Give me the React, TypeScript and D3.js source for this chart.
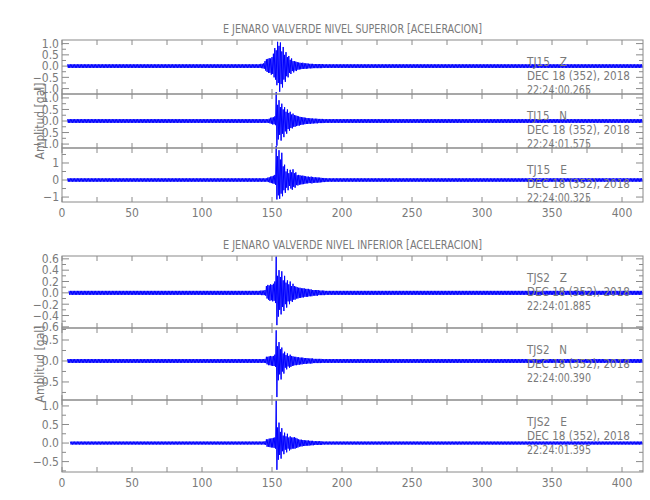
import * as d3 from 'd3';

// seconds 140..189 hold the min/max envelope (one bin per second)
const WIN_START = 140;

const SUP_Z_MAX = [0.08,0.08,0.1,0.1,0.12,0.22,0.3,0.32,0.35,0.34, 0.4,0.55,0.8,0.7,1.08,0.9,1.05,0.65,0.85,0.5,0.62,0.4,0.45,0.28,0.34,0.22, 0.22,0.2,0.18,0.16,0.15,0.14,0.15,0.13,0.12,0.12,0.11,0.1,0.1,0.1, 0.09,0.09,0.09,0.09,0.09,0.09,0.09,0.08,0.08,0.08];
const SUP_Z_MIN = [-0.08,-0.08,-0.09,-0.1,-0.12,-0.2,-0.26,-0.3,-0.3,-0.38, -0.35,-0.5,-0.6,-0.85,-0.75,-1.14,-0.8,-0.95,-0.6,-0.7,-0.45,-0.5,-0.3,-0.35,-0.22,-0.28, -0.2,-0.22,-0.16,-0.15,-0.14,-0.13,-0.12,-0.12,-0.12,-0.11,-0.1,-0.1,-0.1,-0.09, -0.09,-0.09,-0.09,-0.09,-0.09,-0.09,-0.08,-0.08,-0.08,-0.08];
const SUP_N_MAX = [0.08,0.08,0.08,0.08,0.08,0.08,0.08,0.08,0.1,0.14,0.15,0.16,0.2, 1.25,0.7,0.9,0.6,0.75,0.5,0.6,0.4,0.5,0.35,0.4,0.28,0.32, 0.26,0.24,0.22,0.2,0.18,0.17,0.16,0.15,0.14,0.13,0.12,0.12,0.11,0.11, 0.1,0.1,0.1,0.09,0.09,0.09,0.09,0.08,0.08,0.08];
const SUP_N_MIN = [-0.08,-0.08,-0.08,-0.08,-0.08,-0.08,-0.08,-0.08,-0.1,-0.12,-0.15,-0.14,-0.18, -1.07,-0.8,-0.6,-0.85,-0.55,-0.7,-0.45,-0.55,-0.35,-0.42,-0.3,-0.32,-0.25, -0.25,-0.22,-0.2,-0.2,-0.17,-0.16,-0.15,-0.14,-0.13,-0.13,-0.12,-0.12,-0.11,-0.11, -0.1,-0.1,-0.1,-0.09,-0.09,-0.09,-0.09,-0.08,-0.08,-0.08];
const SUP_E_MAX = [0.1,0.1,0.1,0.1,0.1,0.1,0.1,0.14,0.16,0.2,0.22,0.25,0.3, 2.0,1.4,1.75,1.2,1.6,0.8,0.9,0.5,0.65,0.4,0.6,0.45,0.63,0.4,0.45,0.28, 0.3,0.28,0.25,0.26,0.24,0.22,0.2,0.2,0.18,0.2,0.18, 0.16,0.16,0.15,0.15,0.14,0.13,0.12,0.12,0.11,0.1];
const SUP_E_MIN = [-0.1,-0.1,-0.1,-0.1,-0.1,-0.1,-0.1,-0.12,-0.15,-0.18,-0.2,-0.22,-0.28, -1.14,-0.9,-1.1,-0.8,-0.95,-0.6,-0.75,-0.45,-0.6,-0.35,-0.5,-0.57,-0.4,-0.45,-0.3,-0.32, -0.28,-0.26,-0.25,-0.24,-0.22,-0.2,-0.2,-0.18,-0.18,-0.2,-0.17, -0.16,-0.16,-0.15,-0.15,-0.14,-0.13,-0.12,-0.12,-0.11,-0.1];

const INF_Z_MAX = [0.035,0.035,0.04,0.04,0.04,0.05,0.12,0.14,0.13,0.15,0.14,0.16,0.2, 0.64,0.3,0.4,0.28,0.38,0.22,0.3,0.18,0.22,0.15,0.2,0.12,0.16, 0.12,0.11,0.1,0.09,0.09,0.08,0.08,0.08,0.07,0.07,0.07,0.06,0.06,0.05, 0.05,0.05,0.05,0.05,0.04,0.04,0.04,0.04,0.035,0.035];
const INF_Z_MIN = [-0.035,-0.035,-0.04,-0.04,-0.04,-0.05,-0.1,-0.12,-0.14,-0.13,-0.15,-0.14,-0.18, -0.57,-0.42,-0.3,-0.38,-0.25,-0.32,-0.2,-0.26,-0.15,-0.2,-0.14,-0.16,-0.12, -0.12,-0.1,-0.1,-0.09,-0.09,-0.08,-0.08,-0.07,-0.07,-0.07,-0.06,-0.06,-0.06,-0.05, -0.05,-0.05,-0.05,-0.04,-0.04,-0.04,-0.04,-0.04,-0.035,-0.035];
const INF_N_MAX = [0.045,0.045,0.045,0.045,0.045,0.05,0.1,0.1,0.11,0.12,0.11,0.12,0.15, 0.73,0.35,0.45,0.28,0.32,0.18,0.22,0.14,0.18,0.12, 0.15,0.12,0.11,0.1,0.1,0.09,0.09,0.08,0.08,0.08,0.07,0.07,0.07,0.06,0.06,0.06,0.06, 0.05,0.05,0.05,0.05,0.05,0.05,0.045,0.045,0.045,0.045];
const INF_N_MIN = [-0.045,-0.045,-0.045,-0.045,-0.045,-0.05,-0.08,-0.1,-0.1,-0.11,-0.12,-0.12,-0.14, -0.86,-0.46,-0.32,-0.44,-0.25,-0.3,-0.16,-0.2,-0.13,-0.16, -0.14,-0.12,-0.11,-0.1,-0.1,-0.09,-0.09,-0.08,-0.08,-0.07,-0.07,-0.07,-0.06,-0.06,-0.06,-0.06,-0.05, -0.05,-0.05,-0.05,-0.05,-0.05,-0.045,-0.045,-0.045,-0.045,-0.045];
const INF_E_MAX = [0.04,0.04,0.04,0.04,0.04,0.05,0.1,0.1,0.12,0.12,0.13,0.14,0.15, 1.15,0.42,0.55,0.3,0.4,0.2,0.28,0.18,0.25,0.15, 0.18,0.15,0.15,0.16,0.14,0.12,0.1,0.09,0.09,0.08,0.08,0.07,0.07,0.07,0.06,0.06,0.06, 0.05,0.05,0.05,0.05,0.05,0.05,0.04,0.04,0.04,0.04];
const INF_E_MIN = [-0.04,-0.04,-0.04,-0.04,-0.04,-0.05,-0.1,-0.1,-0.11,-0.12,-0.12,-0.13,-0.15, -0.72,-0.45,-0.32,-0.42,-0.22,-0.3,-0.18,-0.25,-0.15,-0.2, -0.17,-0.15,-0.15,-0.15,-0.13,-0.12,-0.1,-0.09,-0.09,-0.08,-0.08,-0.07,-0.07,-0.07,-0.06,-0.06,-0.06, -0.05,-0.05,-0.05,-0.05,-0.05,-0.05,-0.04,-0.04,-0.04,-0.04];

// background noise level outside the window, and first second of each record
const SUP_NOISE = [0.08, 0.08, 0.1];
const INF_NOISE = [0.035, 0.045, 0.04];
const SUP_START = [4, 4, 4];
const INF_START = [5, 4, 6];

const X_LABELS = [0, 50, 100, 150, 200, 250, 300, 350, 400];
const X_END = 415;

const SUP_STATION = ['TJ15   Z', 'TJ15   N', 'TJ15   E'];
const SUP_TIME = ['22:24:00.265', '22:24:01.575', '22:24:00.325'];
const INF_STATION = ['TJS2   Z', 'TJS2   N', 'TJS2   E'];
const INF_TIME = ['22:24:01.885', '22:24:00.390', '22:24:01.395'];
const DATE = 'DEC 18 (352), 2018';

const SUP_DOMAINS: [number, number][] = [[-1.24, 1.16], [-1.17, 1.17], [-1.29, 1.88]];
const INF_DOMAINS: [number, number][] = [[-0.62, 0.65], [-0.93, 0.786], [-0.78, 1.16]];
const SUP_MAJOR = [[-1, -0.5, 0, 0.5, 1], [-1, -0.5, 0, 0.5, 1], [-1, 0, 1]];
const SUP_MINOR = [0.25, 0.25, 0.5];
const INF_MAJOR = [[-0.6, -0.4, -0.2, 0, 0.2, 0.4, 0.6], [-0.5, 0, 0.5], [-0.5, 0, 0.5, 1]];
const INF_MINOR = [0.1, 0.25, 0.25];

const AXIS = '#8a8a8a';
const TEXT = '#7a7a7a';
const TRACE = '#0000ff';
const FONT = '"Liberation Sans Narrow", "DejaVu Sans Condensed", "Liberation Sans", sans-serif';

const x = d3.scaleLinear().domain([0, X_END]).range([62, 643]);

function buildTrace(maxs: number[], mins: number[], noise: number, start: number) {
  const pts: [number, number][] = [];
  for (let t = start; t < X_END; t++) {
    const i = t - WIN_START;
    const hi = i >= 0 && i < maxs.length ? maxs[i] : noise;
    const lo = i >= 0 && i < mins.length ? mins[i] : -noise;
    pts.push([t, hi], [t + 0.5, lo]);
  }
  return pts;
}

interface Row {
  domain: [number, number];
  major: number[];
  minor: number;
  fmt: (v: number) => string;
  maxs: number[];
  mins: number[];
  noise: number;
  start: number;
  station: string;
  time: string;
}

const fmt1 = d3.format('.1f');
const fmt0 = d3.format('d');

const PANELS = [
  {
    title: 'E JENARO VALVERDE NIVEL SUPERIOR [ACELERACION]',
    top: 40,
    rowH: 54,
    rows: [0, 1, 2].map((k): Row => ({
      domain: SUP_DOMAINS[k], major: SUP_MAJOR[k], minor: SUP_MINOR[k],
      fmt: k === 2 ? fmt0 : fmt1,
      maxs: [SUP_Z_MAX, SUP_N_MAX, SUP_E_MAX][k], mins: [SUP_Z_MIN, SUP_N_MIN, SUP_E_MIN][k],
      noise: SUP_NOISE[k], start: SUP_START[k], station: SUP_STATION[k], time: SUP_TIME[k],
    })),
  },
  {
    title: 'E JENARO VALVERDE NIVEL INFERIOR [ACELERACION]',
    top: 256,
    rowH: 72,
    rows: [0, 1, 2].map((k): Row => ({
      domain: INF_DOMAINS[k], major: INF_MAJOR[k], minor: INF_MINOR[k],
      fmt: fmt1,
      maxs: [INF_Z_MAX, INF_N_MAX, INF_E_MAX][k], mins: [INF_Z_MIN, INF_N_MIN, INF_E_MIN][k],
      noise: INF_NOISE[k], start: INF_START[k], station: INF_STATION[k], time: INF_TIME[k],
    })),
  },
];

function TraceRow({ row, top, h }: { row: Row; top: number; h: number }) {
  const y = d3.scaleLinear().domain(row.domain).range([top + h, top]);
  const [x0, x1] = x.range();
  const line = d3.line<[number, number]>().x(d => x(d[0])).y(d => y(d[1]));
  const pts = buildTrace(row.maxs, row.mins, row.noise, row.start);
  const xTicks = d3.range(0, X_END + 1, 25);
  const minors = d3.range(Math.ceil(row.domain[0] / row.minor) * row.minor, row.domain[1] + 1e-9, row.minor)
    .filter(v => !row.major.some(m => Math.abs(m - v) < 1e-6));
  return (
    <g>
      {xTicks.map(t => (
        <g key={t}>
          <line x1={x(t)} x2={x(t)} y1={top} y2={top + 5} stroke={AXIS} />
          <line x1={x(t)} x2={x(t)} y1={top + h} y2={top + h - 5} stroke={AXIS} />
        </g>
      ))}
      {row.major.map(v => (
        <g key={'M' + v}>
          <line x1={x0} x2={x0 + 7} y1={y(v)} y2={y(v)} stroke={AXIS} />
          <line x1={x1} x2={x1 - 7} y1={y(v)} y2={y(v)} stroke={AXIS} />
          <text x={x0 - 3} y={y(v)} dy="0.36em" textAnchor="end" fontSize={12} fill={TEXT}>{row.fmt(v)}</text>
        </g>
      ))}
      {minors.map(v => (
        <g key={'m' + v}>
          <line x1={x0} x2={x0 + 4} y1={y(v)} y2={y(v)} stroke={AXIS} />
          <line x1={x1} x2={x1 - 4} y1={y(v)} y2={y(v)} stroke={AXIS} />
        </g>
      ))}
      <path d={line(pts) || ''} fill="none" stroke={TRACE} strokeWidth={1} />
      <g fontSize={12} fill={TEXT}>
        <text x={527} y={top + 26} textLength={40} lengthAdjust="spacingAndGlyphs" style={{ whiteSpace: 'pre' }}>{row.station}</text>
        <text x={527} y={top + 40} textLength={103} lengthAdjust="spacingAndGlyphs">{DATE}</text>
        <text x={527} y={top + 54} textLength={64} lengthAdjust="spacingAndGlyphs">{row.time}</text>
      </g>
    </g>
  );
}

export default function App() {
  const [x0, x1] = x.range();
  return (
    <svg width={650} height={500} style={{ position: 'absolute', left: 0, top: 0, background: '#fff' }} fontFamily={FONT}>
      {PANELS.map(p => {
        const bottom = p.top + p.rowH * 3;
        return (
          <g key={p.title}>
            <text x={(x0 + x1) / 2} y={p.top - 7} textAnchor="middle" fontSize={13} fill={TEXT}
              textLength={259} lengthAdjust="spacingAndGlyphs">{p.title}</text>
            {p.rows.map((r, i) => (
              <TraceRow key={i} row={r} top={p.top + i * p.rowH} h={p.rowH} />
            ))}
            {p.rows.map((_, i) => (
              <rect key={'f' + i} x={x0} y={p.top + i * p.rowH} width={x1 - x0} height={p.rowH}
                fill="none" stroke={AXIS} />
            ))}
            {X_LABELS.map(t => (
              <text key={t} x={x(t)} y={bottom + 15} textAnchor="middle" fontSize={12} fill={TEXT}>{t}</text>
            ))}
            <text transform={`translate(44,${(p.top + bottom) / 2}) rotate(-90)`} textAnchor="middle"
              fontSize={12} fill={TEXT}>Amplitud [gal]</text>
          </g>
        );
      })}
    </svg>
  );
}
